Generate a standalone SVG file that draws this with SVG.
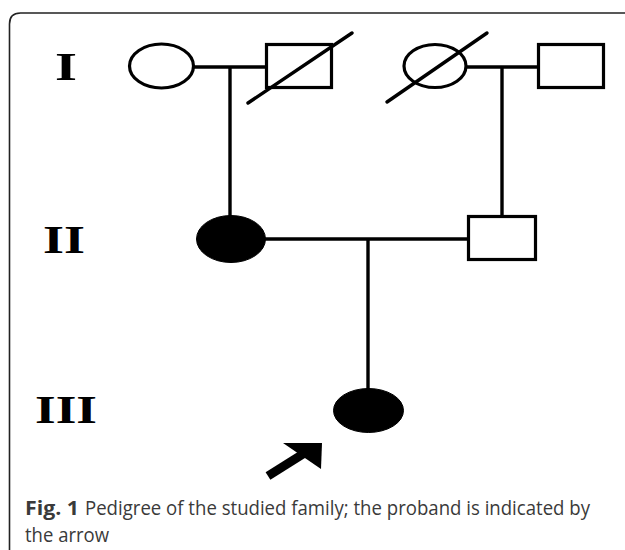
<svg xmlns="http://www.w3.org/2000/svg" width="625" height="550" viewBox="0 0 625 550">
<style>
.frame{fill:none;stroke:#222;stroke-width:1.6}
.sym{fill:#fff;stroke:#000;stroke-width:3.2}
.aff{fill:#000;stroke:#000;stroke-width:1}
.ln{stroke:#000;stroke-width:3.4;fill:none}
.dec{stroke:#000;stroke-width:3.4;stroke-linecap:round}
.gen{font-family:"Liberation Serif",serif;font-weight:bold;font-size:41px;fill:#000}
.cap{font-family:"Open Sans","Liberation Sans",sans-serif;font-size:16px;fill:#3a3a3a}
</style>
<rect width="625" height="550" fill="#fff"/>
<path class="frame" d="M9.5,550 V24 Q9.5,13 20.5,13 H625"/>
<g id="labels">
<text class="gen" x="55" y="80" textLength="22" lengthAdjust="spacingAndGlyphs">I</text>
<text class="gen" x="43" y="253" textLength="42" lengthAdjust="spacingAndGlyphs">II</text>
<text class="gen" x="35" y="423" textLength="62" lengthAdjust="spacingAndGlyphs">III</text>
</g>
<g id="connectors">
<line class="ln" x1="194" y1="67" x2="267" y2="67"/>
<line class="ln" x1="230" y1="67" x2="230" y2="216"/>
<line class="ln" x1="466" y1="67" x2="539" y2="67"/>
<line class="ln" x1="502" y1="67" x2="502" y2="217"/>
<line class="ln" x1="265" y1="239" x2="469" y2="239"/>
<line class="ln" x1="368" y1="239" x2="368" y2="389"/>
</g>
<g id="I-1"><ellipse class="sym" cx="161.5" cy="66" rx="32" ry="22"/></g>
<g id="I-2"><rect class="sym" x="266.5" y="44.5" width="65" height="43"/><line class="dec" x1="248" y1="103" x2="352" y2="33"/></g>
<g id="I-3"><ellipse class="sym" cx="435" cy="66" rx="31" ry="21.5"/><line class="dec" x1="387" y1="102" x2="487" y2="33"/></g>
<g id="I-4"><rect class="sym" x="538.5" y="44.5" width="65" height="43"/></g>
<g id="II-1"><ellipse class="aff" cx="231" cy="239" rx="34.5" ry="23.5"/></g>
<g id="II-2"><rect class="sym" x="468.5" y="216.5" width="67" height="43"/></g>
<g id="III-1"><ellipse class="aff" cx="368.5" cy="410.5" rx="35" ry="22"/></g>
<g id="proband-arrow">
<line x1="268" y1="476" x2="303" y2="454" stroke="#000" stroke-width="9"/>
<polygon points="283,443 322,443 321,469" fill="#000"/>
</g>
<g id="caption">
<text class="cap" transform="translate(25,515) scale(1,1.25)" x="0" y="0" font-weight="bold" fill="#111" textLength="54" lengthAdjust="spacingAndGlyphs">Fig. 1</text>
<text class="cap" transform="translate(85,515) scale(1,1.25)" x="0" y="0" textLength="505" lengthAdjust="spacingAndGlyphs">Pedigree of the studied family; the proband is indicated by</text>
<text class="cap" transform="translate(25,542) scale(1,1.25)" x="0" y="0" textLength="84" lengthAdjust="spacingAndGlyphs">the arrow</text>
</g>
</svg>
